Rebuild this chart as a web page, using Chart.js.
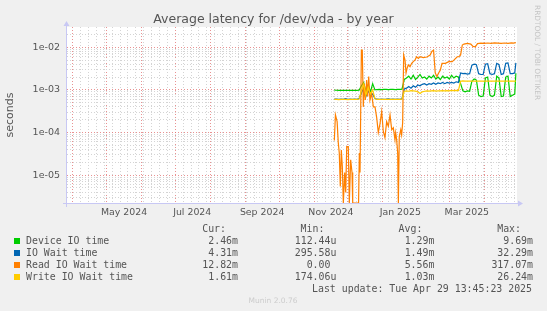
<!DOCTYPE html>
<html>
<head>
<meta charset="utf-8">
<script src="https://cdn.jsdelivr.net/npm/chart.js@4.4.0/dist/chart.umd.min.js"></script>
<style>
  html, body { margin: 0; padding: 0; background: #f0f0f0; }
  canvas { display: block; }
</style>
</head>
<body>
<canvas id="latencyChart" width="547" height="311"></canvas>
<script>
// x values are days since 1 Apr 2024
const xMin = -5.05;
const xMax = 394.0;
const yMin = 2.22e-6;
const yMax = 0.0299;

const monthStarts = [0, 30, 61, 91, 122, 153, 183, 214, 244, 275, 306, 334, 365];
const weekStarts = [7, 14, 21, 28, 35, 42, 49, 56, 63, 70, 77, 84, 98, 105, 112, 119, 126, 133, 140, 147,
  154, 161, 168, 175, 189, 196, 203, 210, 217, 224, 231, 238, 245, 252, 259, 266, 273, 280, 287,
  294, 301, 308, 315, 322, 329, 336, 343, 350, 357, 364, 371, 378, 385, 392];
const monthLabelDays = [45.5, 106, 168, 229, 290.5, 349.5];
const monthLabels = ["May 2024", "Jul 2024", "Sep 2024", "Nov 2024", "Jan 2025", "Mar 2025"];
const yTickValues = [1e-5, 1e-4, 1e-3, 1e-2];
const yTickLabels = ["1e-05", "1e-04", "1e-03", "1e-02"];

// shared sample days for device / io wait / write
const days = [232, 234, 236, 238, 240, 242, 244, 246, 248, 250, 252, 254, 256, 258, 260, 262, 264, 266, 268,
  270, 272, 274, 276, 278, 280, 282, 284, 286, 288, 290, 292, 294, 296, 298, 300, 302, 304, 306, 308,
  310, 312, 314, 316, 318, 320, 322, 324, 326, 328, 330, 332, 334, 336, 338, 340, 342, 344, 346, 348,
  350, 352, 354, 356, 358, 360, 362, 364, 366, 368, 370, 372, 374, 376, 378, 380, 382, 384, 386, 388,
  390, 392, 393];

const deviceIO = [0.99e-3, 0.98e-3, 0.97e-3, 0.98e-3, 0.97e-3, 0.97e-3, 0.98e-3, 0.97e-3, 0.97e-3, 0.98e-3,
  0.97e-3, 0.98e-3, 1.25e-3, 1.5e-3, 0.9e-3, 1.3e-3, 0.88e-3, 1.4e-3, 1.0e-3,
  1.02e-3, 1.03e-3, 1.02e-3, 1.03e-3, 1.03e-3, 1.02e-3, 1.03e-3, 1.03e-3, 1.02e-3, 1.03e-3, 1.03e-3, 1.04e-3,
  1.75e-3, 1.9e-3, 2.1e-3, 1.8e-3, 2.2e-3, 1.75e-3, 2.0e-3, 2.3e-3, 1.9e-3, 2.0e-3, 1.8e-3, 2.1e-3,
  1.9e-3, 2.2e-3, 1.8e-3, 2.0e-3, 1.75e-3, 2.1e-3, 1.9e-3, 2.0e-3, 1.8e-3, 2.2e-3, 1.9e-3, 2.1e-3, 2.0e-3,
  1.4e-3, 0.95e-3, 0.9e-3, 0.95e-3, 0.93e-3, 1.6e-3, 1.8e-3, 1.7e-3, 0.75e-3, 0.7e-3, 0.72e-3,
  1.9e-3, 2.0e-3, 0.75e-3, 0.7e-3, 0.75e-3, 2.1e-3, 1.9e-3, 0.7e-3, 0.72e-3, 2.0e-3, 2.1e-3,
  0.7e-3, 0.75e-3, 0.8e-3, 2.46e-3];

const ioWait = [0.605e-3, 0.61e-3, 0.6e-3, 0.605e-3, 0.6e-3, 0.62e-3, 0.6e-3, 0.605e-3, 0.6e-3, 0.61e-3,
  0.6e-3, 0.63e-3, 0.85e-3, 1.1e-3, 0.7e-3, 0.95e-3, 0.75e-3, 0.8e-3, 0.63e-3,
  0.605e-3, 0.6e-3, 0.61e-3, 0.6e-3, 0.605e-3, 0.62e-3, 0.6e-3, 0.605e-3, 0.6e-3, 0.61e-3, 0.6e-3, 0.62e-3,
  1.05e-3, 1.1e-3, 1.2e-3, 1.1e-3, 1.25e-3, 1.15e-3, 1.3e-3, 1.25e-3, 1.35e-3, 1.4e-3, 1.3e-3, 1.4e-3,
  1.35e-3, 1.45e-3, 1.35e-3, 1.45e-3, 1.4e-3, 1.5e-3, 1.4e-3, 1.5e-3, 1.45e-3, 1.5e-3, 1.45e-3, 1.55e-3, 1.5e-3,
  2.5e-3, 2.4e-3, 2.45e-3, 2.35e-3, 2.4e-3, 3.8e-3, 4.0e-3, 3.9e-3, 2.4e-3, 2.3e-3, 2.3e-3,
  4.0e-3, 4.1e-3, 2.4e-3, 2.3e-3, 2.4e-3, 4.2e-3, 3.9e-3, 2.3e-3, 2.4e-3, 4.2e-3, 4.3e-3,
  2.4e-3, 2.4e-3, 2.5e-3, 4.31e-3];

const writeWait = [0.60e-3, 0.60e-3, 0.59e-3, 0.60e-3, 0.60e-3, 0.60e-3, 0.59e-3, 0.60e-3, 0.60e-3, 0.60e-3,
  0.60e-3, 0.61e-3, 0.95e-3, 1.35e-3, 0.75e-3, 1.15e-3, 0.8e-3, 1.0e-3, 0.62e-3,
  0.60e-3, 0.60e-3, 0.60e-3, 0.60e-3, 0.60e-3, 0.60e-3, 0.60e-3, 0.60e-3, 0.60e-3, 0.60e-3, 0.60e-3, 0.61e-3,
  0.92e-3, 0.95e-3, 0.93e-3, 0.96e-3, 0.95e-3, 0.94e-3, 0.9e-3, 0.82e-3, 0.9e-3, 0.93e-3, 0.95e-3, 0.94e-3,
  0.95e-3, 0.96e-3, 0.94e-3, 0.95e-3, 0.95e-3, 0.96e-3, 0.95e-3, 0.96e-3, 0.95e-3, 0.97e-3, 0.96e-3, 0.97e-3, 0.96e-3,
  1.6e-3, 1.62e-3, 1.6e-3, 1.6e-3, 1.61e-3, 1.6e-3, 1.6e-3, 1.61e-3, 1.6e-3, 1.6e-3, 1.61e-3,
  1.6e-3, 1.6e-3, 1.6e-3, 1.61e-3, 1.6e-3, 1.6e-3, 1.61e-3, 1.6e-3, 1.6e-3, 1.61e-3, 1.6e-3,
  1.6e-3, 1.6e-3, 1.61e-3, 1.61e-3];

// read wait is much noisier, sampled on its own days
const readDays = [232, 233, 234.5, 235.5, 236.4, 237.3, 238.2, 239.1, 240, 241.2, 242.1, 243, 244.4, 245.3,
  246.5, 247.7, 248.3, 250, 252, 253.5, 254.2, 254.8, 256, 256.8, 257.7, 258.6, 259.5, 260.7, 261.6,
  262.5, 263.6, 265.1, 266.6, 268.1, 269.6, 271, 272.5, 274, 275.4, 276.9, 278.4, 279.9, 281.4, 282.9,
  284.3, 285.8, 286.4, 287.3, 288.2, 288.8, 289.6, 290.9, 291.7, 292.6, 293.5, 294.7, 295.6, 296.5,
  297.6, 299.1, 300.6, 302, 303.5, 305, 306.5, 308, 311, 314, 317, 318.5, 320, 321.5, 323, 324.5, 326,
  327.5, 330.5, 333.5, 336.5, 338, 341, 342.5, 344, 345.5, 347, 350, 353, 355, 357, 359, 362, 365, 368,
  371, 374, 377, 380, 383, 386, 389, 391, 393];
const readWait = [6.5e-5, 2.6e-4, 1.8e-4, 5.8e-5, 3.3e-5, 5.4e-6, 3.9e-5, 1.6e-5, 0, 1.15e-5, 3.9e-6, 4.7e-5, 4.7e-5, 0,
  2.3e-5, 1.15e-5, 0, 0, 0, 0, 3.3e-5, 1.15e-5, 8.6e-3, 8.6e-3, 4e-4, 1.4e-3, 5.8e-4, 1.7e-3, 7e-4,
  2.05e-3, 5.8e-4, 8.3e-4, 4e-4, 4e-4, 2.2e-4, 1e-4, 1.6e-4, 3.1e-4, 1.07e-4, 7.6e-5, 1.8e-4, 1.4e-4, 2.6e-4, 1.16e-4,
  1.3e-4, 6.7e-5, 9.8e-5, 6.7e-5, 3.3e-5, 0, 8e-5, 1.16e-4, 8.8e-5, 1.7e-4, 6.6e-3, 5e-3, 2.5e-3, 3.2e-3,
  3.85e-3, 3.5e-3, 4.2e-3, 4.6e-3, 5e-3, 6e-3, 5.5e-3, 6e-3, 5.7e-3, 5.9e-3, 6.6e-3, 8e-3, 8.6e-3, 2.5e-3, 2.05e-3, 2.5e-3, 2.9e-3,
  4.2e-3, 4.2e-3, 4.6e-3, 4.6e-3, 5e-3, 6e-3, 6e-3, 6.6e-3, 0.0113, 0.0119, 0.0124, 0.0119, 0.0105, 0.0102, 0.0122, 0.0125, 0.0123, 0.0126,
  0.0124, 0.0127, 0.0125, 0.0123, 0.0126, 0.0124, 0.0127, 0.0125, 0.01282];

const legendNames = ["Device IO time", "IO Wait time", "Read IO Wait time", "Write IO Wait time"];
const legendColors = ["#00cc00", "#0066b3", "#ff8000", "#ffcc00"];
const columnHeads = ["Cur:", "Min:", "Avg:", "Max:"];
const curValues = ["2.46m", "4.31m", "12.82m", "1.61m"];
const minValues = ["112.44u", "295.58u", "0.00 ", "174.06u"];
const avgValues = ["1.29m", "1.49m", "5.56m", "1.03m"];
const maxValues = ["9.69m", "32.29m", "317.07m", "26.24m"];
const lastUpdate = "Last update: Tue Apr 29 13:45:23 2025";

// zero cannot sit on a log axis, so it is pinned to the floor like rrdtool does
function toPoints(xs, ys) {
  return xs.map((d, i) => ({ x: d, y: ys[i] === 0 ? yMin : ys[i] }));
}

function lineSet(label, xs, ys, color, order) {
  return {
    label,
    data: toPoints(xs, ys),
    borderColor: color,
    backgroundColor: color,
    borderWidth: 1.2,
    pointRadius: 0,
    tension: 0,
    fill: false,
    order,
  };
}

const rrdFrame = {
  id: "rrdFrame",
  beforeDraw(chart) {
    const { ctx, chartArea: a } = chart;
    ctx.save();
    ctx.fillStyle = "#f0f0f0";
    ctx.fillRect(0, 0, chart.width, chart.height);
    ctx.fillStyle = "#ffffff";
    ctx.fillRect(a.left, a.top, a.right - a.left, a.bottom - a.top);
    ctx.restore();
  },
  afterDraw(chart) {
    const { ctx, chartArea: a } = chart;
    ctx.save();

    // axes with arrow heads
    ctx.strokeStyle = "#c8c8f4";
    ctx.fillStyle = "#c8c8f4";
    ctx.lineWidth = 1;
    ctx.beginPath();
    ctx.moveTo(a.left - 4, a.bottom + 0.5);
    ctx.lineTo(a.right + 2, a.bottom + 0.5);
    ctx.moveTo(a.left - 0.5, a.bottom + 4);
    ctx.lineTo(a.left - 0.5, a.top - 2);
    ctx.stroke();
    ctx.beginPath();
    ctx.moveTo(a.right + 6, a.bottom + 0.5);
    ctx.lineTo(a.right + 1, a.bottom - 2.5);
    ctx.lineTo(a.right + 1, a.bottom + 3.5);
    ctx.closePath();
    ctx.fill();
    ctx.beginPath();
    ctx.moveTo(a.left - 0.5, a.top - 6);
    ctx.lineTo(a.left - 3.5, a.top - 1);
    ctx.lineTo(a.left + 2.5, a.top - 1);
    ctx.closePath();
    ctx.fill();

    // title
    ctx.fillStyle = "#555555";
    ctx.font = '12.5px "DejaVu Sans"';
    ctx.textAlign = "center";
    ctx.textBaseline = "alphabetic";
    ctx.fillText("Average latency for /dev/vda - by year", 273.5, 23);

    // rrdtool credit on the right edge
    ctx.save();
    ctx.translate(537, 5);
    ctx.rotate(Math.PI / 2);
    ctx.fillStyle = "#c4c4c4";
    ctx.font = '7.4px "DejaVu Sans"';
    ctx.textAlign = "left";
    ctx.textBaseline = "middle";
    ctx.fillText("RRDTOOL / TOBI OETIKER", 0, 0);
    ctx.restore();

    // legend table
    const colRight = [238, 336.4, 434.4, 533];
    const columns = [curValues, minValues, avgValues, maxValues];
    const headY = 229;
    const rowY = [241, 253, 265, 277];
    ctx.font = '9.9px "DejaVu Sans Mono"';
    ctx.textBaseline = "middle";
    ctx.fillStyle = "#555555";
    ctx.textAlign = "right";
    columnHeads.forEach((h, c) => ctx.fillText(h, colRight[c] - 12, headY));
    legendNames.forEach((name, r) => {
      ctx.fillStyle = legendColors[r];
      ctx.fillRect(14, rowY[r] - 3, 6, 6);
      ctx.fillStyle = "#555555";
      ctx.textAlign = "left";
      ctx.fillText(name, 26, rowY[r]);
      ctx.textAlign = "right";
      columns.forEach((col, c) => ctx.fillText(col[r], colRight[c], rowY[r]));
    });
    ctx.fillText(lastUpdate, 532, 289);

    ctx.fillStyle = "#cccccc";
    ctx.font = '7.5px "DejaVu Sans"';
    ctx.textAlign = "center";
    ctx.fillText("Munin 2.0.76", 273, 301);
    ctx.restore();
  },
};

const ctx = document.getElementById("latencyChart").getContext("2d");
new Chart(ctx, {
  type: "line",
  data: {
    datasets: [
      lineSet("Device IO time", days, deviceIO, legendColors[0], 4),
      lineSet("IO Wait time", days, ioWait, legendColors[1], 3),
      lineSet("Read IO Wait time", readDays, readWait, legendColors[2], 2),
      lineSet("Write IO Wait time", days, writeWait, legendColors[3], 1),
    ],
  },
  options: {
    responsive: false,
    animation: false,
    events: [],
    layout: { padding: { top: 27, right: 30, left: 0, bottom: 0 } },
    plugins: { legend: { display: false }, tooltip: { enabled: false } },
    scales: {
      x: {
        type: "linear",
        position: "bottom",
        min: xMin,
        max: xMax,
        afterBuildTicks: (scale) => {
          const vals = weekStarts.filter((d) => !monthStarts.includes(d)).concat(monthStarts);
          scale.ticks = vals.map((v) => ({ value: v }));
        },
        afterFit: (scale) => { scale.height = 0; },
        ticks: { display: false },
        grid: {
          drawTicks: false,
          lineWidth: 1,
          color: (c) => (monthStarts.includes(c.tick.value) ? "rgba(225,110,110,0.75)" : "#d4d4d4"),
        },
        border: { display: false, dash: [1, 2] },
      },
      xl: {
        type: "linear",
        position: "bottom",
        min: xMin,
        max: xMax,
        afterBuildTicks: (scale) => {
          scale.ticks = monthLabelDays.map((v) => ({ value: v }));
        },
        afterFit: (scale) => { scale.height = 108; },
        ticks: {
          autoSkip: false,
          maxRotation: 0,
          padding: 4,
          color: "#555555",
          font: { family: "DejaVu Sans", size: 9.4 },
          callback: (v) => monthLabels[monthLabelDays.indexOf(v)],
        },
        grid: { display: false, drawTicks: false },
        border: { display: false },
      },
      y: {
        type: "logarithmic",
        min: yMin,
        max: yMax,
        afterBuildTicks: (scale) => {
          const ticks = [];
          for (let e = -6; e <= -2; e++) {
            for (let m = 1; m <= 9; m++) {
              const v = m * Math.pow(10, e);
              if (v > yMin && v < yMax) ticks.push({ value: v });
            }
          }
          scale.ticks = ticks;
        },
        afterFit: (scale) => { scale.width = 67; },
        ticks: {
          autoSkip: false,
          padding: 7,
          color: "#555555",
          font: { family: "DejaVu Sans", size: 9.5 },
          callback: (v) => {
            const i = yTickValues.findIndex((t) => Math.abs(t - v) / t < 1e-6);
            return i >= 0 ? yTickLabels[i] : "";
          },
        },
        grid: {
          drawTicks: false,
          lineWidth: 1,
          color: (c) => (yTickValues.some((t) => Math.abs(t - c.tick.value) / t < 1e-6) ? "rgba(225,110,110,0.75)" : "#d4d4d4"),
        },
        border: { display: false, dash: [1, 2] },
        title: {
          display: true,
          text: "seconds",
          color: "#555555",
          font: { family: "DejaVu Sans", size: 11 },
          padding: { top: 4, bottom: 0 },
        },
      },
    },
  },
  plugins: [rrdFrame],
});
</script>
</body>
</html>
